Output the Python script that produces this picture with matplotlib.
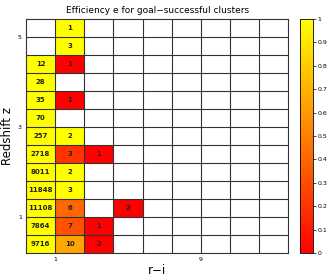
import matplotlib
matplotlib.use('Agg')
import matplotlib.pyplot as plt
import numpy as np

# rows listed top to bottom, columns left to right (r-i bins)
counts = [
    [None, 1, None],
    [None, 3, None],
    [12, 1, None],
    [28, None, None],
    [35, 1, None],
    [70, None, None],
    [257, 2, None],
    [2718, 3, 1],
    [8011, 2, None],
    [11848, 3, None],
    [11108, 6, None, 2],
    [7864, 7, 1],
    [9716, 10, 2],
]
eff = [
    [None, 1.0, None],
    [None, 1.0, None],
    [1.0, 0.0, None],
    [1.0, None, None],
    [1.0, 0.0, None],
    [1.0, None, None],
    [1.0, 1.0, None],
    [1.0, 0.2, 0.0],
    [1.0, 1.0, None],
    [1.0, 1.0, None],
    [1.0, 0.4, None, 0.0],
    [1.0, 0.32, 0.0],
    [1.0, 0.65, 0.0],
]
ncols = 9
nrows = len(counts)
xtick_pos = [1, 6]
xtick_lab = ['1', '9']
ytick_pos = [2, 7, 12]
ytick_lab = ['1', '3', '5']

grid = np.full((nrows, ncols), np.nan)
for i, row in enumerate(eff):
    for j, v in enumerate(row):
        if v is not None:
            grid[nrows - 1 - i, j] = v
data = np.ma.masked_invalid(grid)

fig = plt.figure(figsize=(3.27, 2.79), dpi=100)
ax = fig.add_axes([0.0795, 0.093, 0.802, 0.839])
cax = fig.add_axes([0.917, 0.093, 0.04, 0.839])

m = ax.pcolormesh(np.arange(ncols + 1), np.arange(nrows + 1), data,
                  cmap='autumn', vmin=0, vmax=1)
for k in range(1, ncols):
    ax.axvline(k, color='#333333', linewidth=0.8)
for k in range(1, nrows):
    ax.axhline(k, color='#333333', linewidth=0.8)
for i, row in enumerate(counts):
    for j, c in enumerate(row):
        if c is not None:
            ax.text(j + 0.5, nrows - 1 - i + 0.5, str(c), ha='center', va='center',
                    fontsize=5, fontweight='bold', color='#222222')

ax.set_xticks(xtick_pos)
ax.set_xticklabels(xtick_lab)
ax.set_yticks(ytick_pos)
ax.set_yticklabels(ytick_lab)
ax.tick_params(which='major', labelsize=4.5, length=0, pad=3)
ax.set_xlim(0, ncols)
ax.set_ylim(0, nrows)
for s in ax.spines.values():
    s.set_color('#333333')
    s.set_linewidth(0.8)

ax.set_title('Efficiency e for goal\u2212successful clusters', fontsize=6.5, pad=4)
ax.set_xlabel('r\u2212i', fontsize=8.5, labelpad=1)
ax.set_ylabel('Redshift z', fontsize=8.5, labelpad=3)

cb = fig.colorbar(m, cax=cax, ticks=np.arange(0, 1.01, 0.1))
cb.ax.set_yticklabels(['0', '0.1', '0.2', '0.3', '0.4', '0.5', '0.6', '0.7', '0.8', '0.9', '1'])
cb.ax.tick_params(labelsize=4.5, length=2, width=0.5, pad=1.5)
cb.outline.set_linewidth(0.6)

fig.savefig('out.png', dpi=100)
